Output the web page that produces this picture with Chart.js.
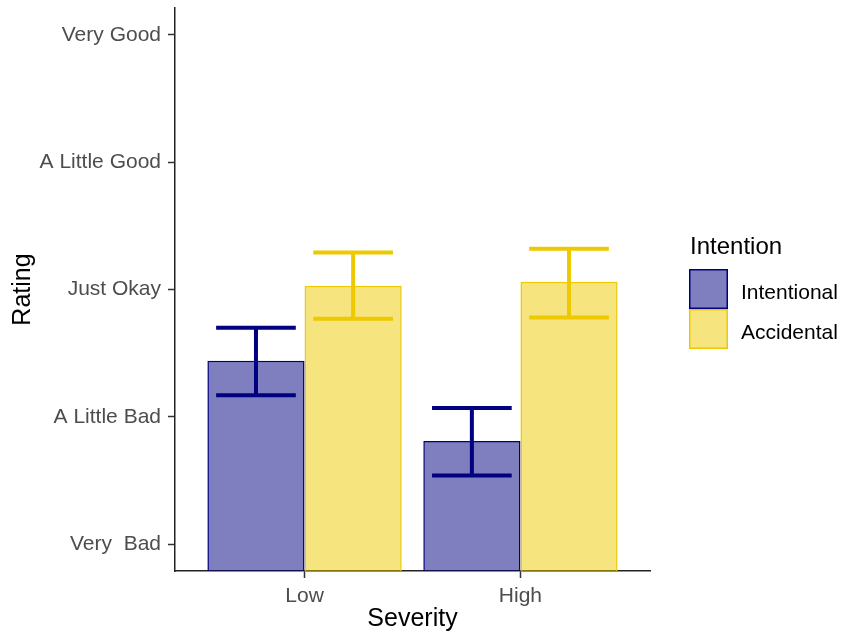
<!DOCTYPE html>
<html>
<head>
<meta charset="utf-8">
<script src="https://cdn.jsdelivr.net/npm/chart.js@4"></script>
<style>
  html, body { margin: 0; padding: 0; background: #fff; }
  #wrap { width: 841px; height: 635px; position: relative; }
</style>
</head>
<body>
<div id="wrap"><canvas id="barChart"></canvas></div>
<script>
// Data
const severity = ['Low', 'High'];
const ratingLabels = ['Very  Bad', 'A Little Bad', 'Just Okay', 'A Little Good', 'Very Good'];
const seriesNames = ['Intentional', 'Accidental'];
const intentionalMean = [2.44, 1.81];
const intentionalLow = [2.17, 1.54];
const intentionalHigh = [2.70, 2.07];
const accidentalMean = [3.03, 3.06];
const accidentalLow = [2.77, 2.78];
const accidentalHigh = [3.29, 3.32];

const navy = '#000080';
const gold = '#EEC900';
const fontFamily = "'Liberation Sans', Arial, sans-serif";

// Error bars drawn on top of the bars
const errorBarPlugin = {
    id: 'errorBars',
    afterDatasetsDraw(chart) {
        const ctx = chart.ctx;
        const yScale = chart.scales.y;
        chart.data.datasets.forEach((ds, di) => {
            const meta = chart.getDatasetMeta(di);
            meta.data.forEach((bar, i) => {
                const half = bar.width * 0.41;
                const yLo = yScale.getPixelForValue(ds.errLow[i]);
                const yHi = yScale.getPixelForValue(ds.errHigh[i]);
                ctx.save();
                ctx.strokeStyle = ds.borderColor;
                ctx.lineWidth = 4;
                ctx.beginPath();
                ctx.moveTo(bar.x - half, yHi);
                ctx.lineTo(bar.x + half, yHi);
                ctx.moveTo(bar.x, yHi);
                ctx.lineTo(bar.x, yLo);
                ctx.moveTo(bar.x - half, yLo);
                ctx.lineTo(bar.x + half, yLo);
                ctx.stroke();
                ctx.restore();
            });
        });
    }
};

// ggplot-style legend on the right
const sideLegendPlugin = {
    id: 'sideLegend',
    afterDraw(chart) {
        const ctx = chart.ctx;
        const left = chart.chartArea.right + 39;
        ctx.save();
        ctx.fillStyle = '#000';
        ctx.textBaseline = 'middle';
        ctx.textAlign = 'left';
        ctx.font = '24px ' + fontFamily;
        ctx.fillText('Intention', left + 1, 247);
        ctx.font = '21px ' + fontFamily;
        chart.data.datasets.forEach((ds, i) => {
            const top = 269 + i * 40;
            ctx.fillStyle = '#fff';
            ctx.fillRect(left, top, 39, 40);
            ctx.fillStyle = ds.backgroundColor;
            ctx.fillRect(left, top, 39, 40);
            ctx.strokeStyle = ds.borderColor;
            ctx.lineWidth = 1.5;
            ctx.strokeRect(left + 0.75, top + 0.75, 37.5, 38.5);
            ctx.fillStyle = '#000';
            ctx.fillText(ds.label, left + 52, top + 24);
        });
        ctx.restore();
    }
};

function toPoints(values) {
    return values.map((v, i) => ({ x: i + 1, y: v }));
}

const ctx = document.getElementById('barChart').getContext('2d');
new Chart(ctx, {
    type: 'bar',
    data: {
        datasets: [
            {
                label: seriesNames[0],
                data: toPoints(intentionalMean),
                errLow: intentionalLow,
                errHigh: intentionalHigh,
                backgroundColor: 'rgba(0, 0, 128, 0.5)',
                borderColor: navy,
                borderWidth: 1.5
            },
            {
                label: seriesNames[1],
                data: toPoints(accidentalMean),
                errLow: accidentalLow,
                errHigh: accidentalHigh,
                backgroundColor: 'rgba(238, 201, 0, 0.5)',
                borderColor: gold,
                borderWidth: 1.5
            }
        ]
    },
    options: {
        responsive: true,
        maintainAspectRatio: false,
        animation: false,
        categoryPercentage: 0.9,
        barPercentage: 1.0,
        layout: { padding: { top: 8, right: 191, bottom: 0, left: 0 } },
        plugins: {
            legend: { display: false },
            tooltip: { enabled: false }
        },
        scales: {
            x: {
                type: 'linear',
                min: 0.4,
                max: 2.6,
                offset: false,
                afterBuildTicks: scale => {
                    scale.ticks = severity.map((s, i) => ({ value: i + 1 }));
                },
                afterFit: scale => {
                    scale.height = 64;
                    scale.paddingLeft = 0;
                    scale.paddingRight = 0;
                },
                border: { display: true, color: '#222', width: 1.5 },
                grid: { offset: false, drawOnChartArea: false, drawTicks: true, tickLength: 7, tickColor: '#333', tickWidth: 1.5 },
                ticks: {
                    color: '#4D4D4D',
                    padding: 6,
                    maxRotation: 0,
                    font: { family: fontFamily, size: 21 },
                    callback: value => severity[value - 1]
                },
                title: {
                    display: true,
                    text: 'Severity',
                    color: '#000',
                    font: { family: fontFamily, size: 25 },
                    padding: { top: 0, bottom: 1 }
                }
            },
            y: {
                min: 0.79,
                max: 5.21,
                afterBuildTicks: scale => {
                    scale.ticks = ratingLabels.map((r, i) => ({ value: i + 1 }));
                },
                afterFit: scale => {
                    scale.width = 175;
                    scale.paddingTop = 0;
                    scale.paddingBottom = 0;
                },
                border: { display: true, color: '#222', width: 1.5 },
                grid: { drawOnChartArea: false, drawTicks: true, tickLength: 7, tickColor: '#333', tickWidth: 1.5 },
                ticks: {
                    color: '#4D4D4D',
                    padding: 7,
                    font: { family: fontFamily, size: 21 },
                    callback: value => ratingLabels[value - 1]
                },
                title: {
                    display: true,
                    text: 'Rating',
                    color: '#000',
                    font: { family: fontFamily, size: 25 },
                    padding: { top: 8, bottom: 0 }
                }
            }
        }
    },
    plugins: [errorBarPlugin, sideLegendPlugin]
});
</script>
</body>
</html>
